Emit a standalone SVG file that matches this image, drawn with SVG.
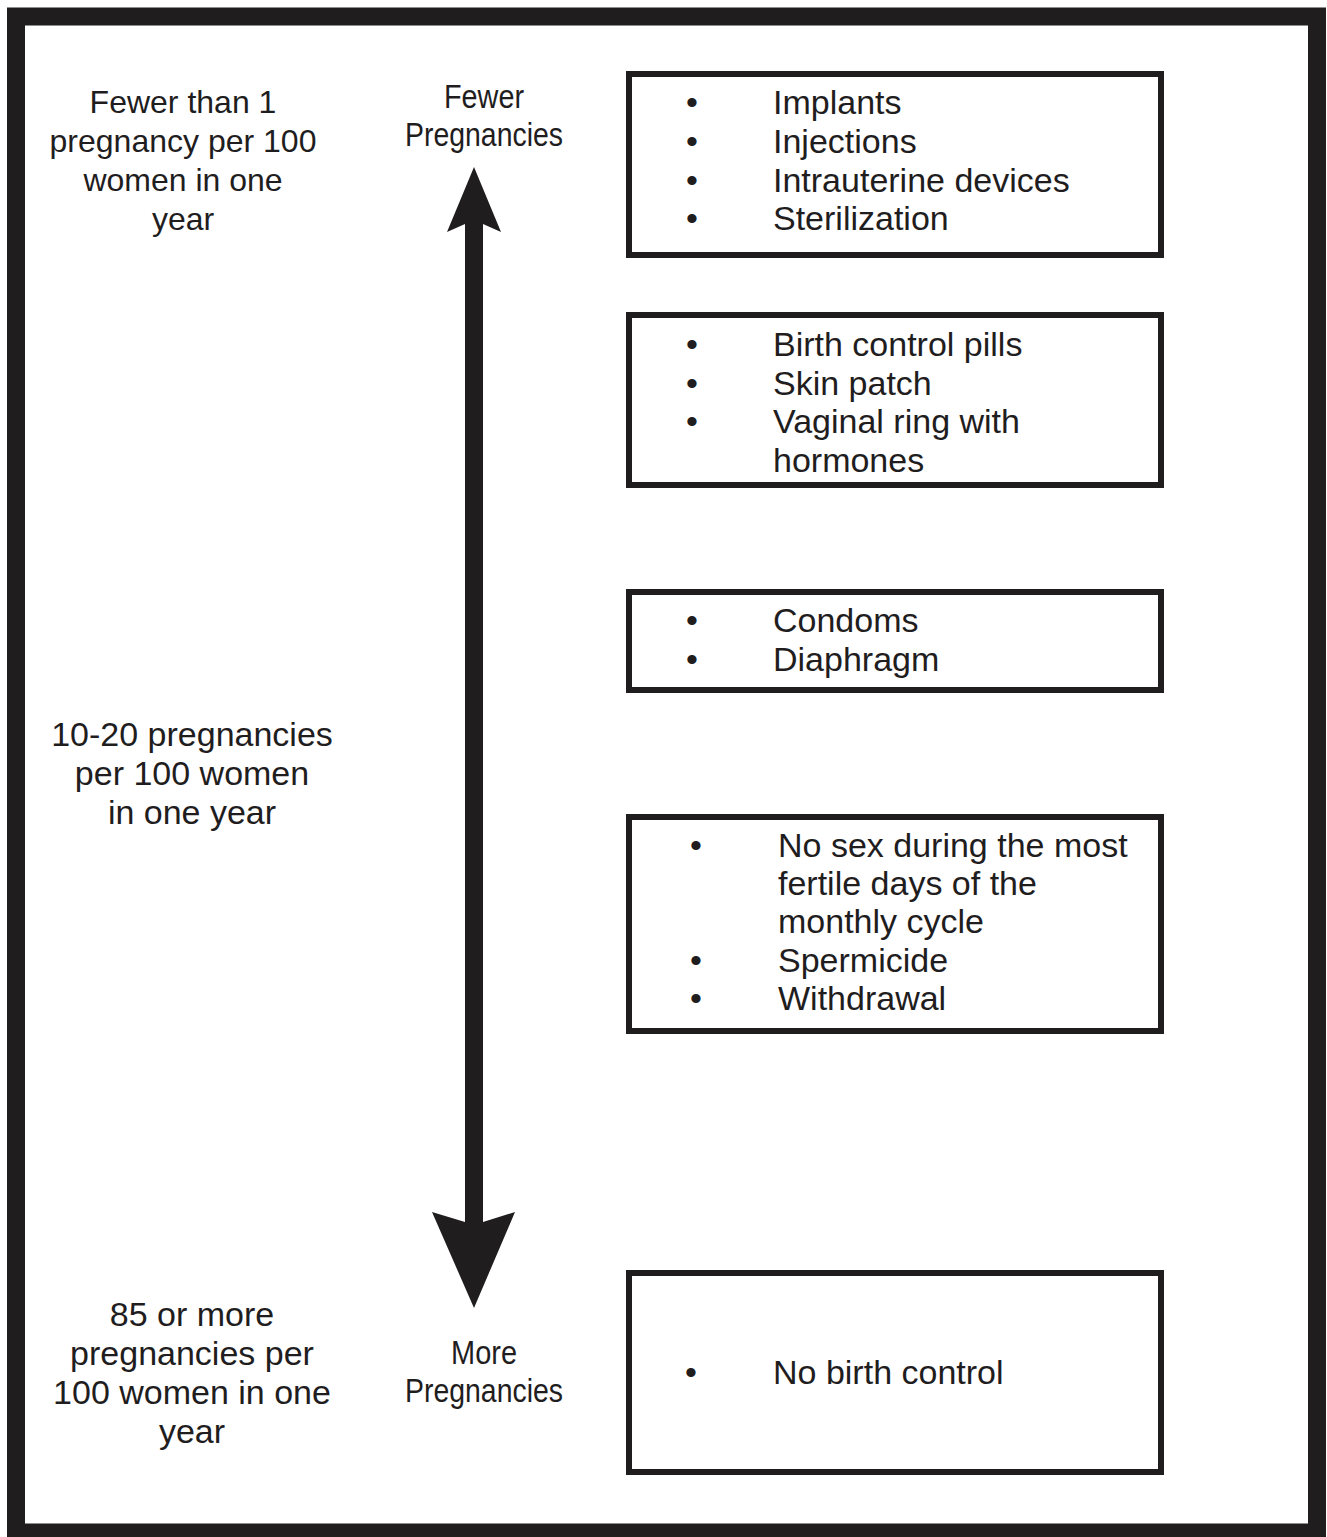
<svg xmlns="http://www.w3.org/2000/svg" width="1327" height="1537" viewBox="0 0 1327 1537">
<style>
.t{font-family:"Liberation Sans",Arial,sans-serif;fill:#1f1d1e}
.l{font-size:34px;text-anchor:middle}
.b{font-size:34px}
.ax{font-size:34px;text-anchor:middle}
.box{fill:none;stroke:#1f1d1e;stroke-width:6}
</style>
<rect x="0" y="0" width="1327" height="1537" fill="#ffffff"/>
<rect x="16" y="16.5" width="1301" height="1516" fill="none" stroke="#1f1d1e" stroke-width="18"/>
<g id="label-top" class="t l">
<text x="183" y="113" font-size="32">Fewer than 1</text>
<text x="183" y="152" font-size="32">pregnancy per 100</text>
<text x="183" y="191" font-size="32">women in one</text>
<text x="183" y="230" font-size="32">year</text>
</g>
<g id="label-mid" class="t l">
<text x="192" y="746">10-20 pregnancies</text>
<text x="192" y="785">per 100 women</text>
<text x="192" y="824">in one year</text>
</g>
<g id="label-bottom" class="t l">
<text x="192" y="1326">85 or more</text>
<text x="192" y="1365">pregnancies per</text>
<text x="192" y="1404">100 women in one</text>
<text x="192" y="1443">year</text>
</g>
<g id="axis-top" class="t ax">
<text x="484" y="108" textLength="80" lengthAdjust="spacingAndGlyphs">Fewer</text>
<text x="484" y="146" textLength="158" lengthAdjust="spacingAndGlyphs">Pregnancies</text>
</g>
<g id="axis-bottom" class="t ax">
<text x="484" y="1364" textLength="66" lengthAdjust="spacingAndGlyphs">More</text>
<text x="484" y="1402" textLength="158" lengthAdjust="spacingAndGlyphs">Pregnancies</text>
</g>
<g id="connectors">
<polygon points="474,167 501,232 483,224 483,1222 515,1212 474,1308 432,1212 465,1222 465,224 447,232" fill="#1f1d1e"/>
</g>
<g id="box1">
<rect class="box" x="629" y="74" width="532" height="181"/>
<g class="t b">
<text x="686" y="114">•</text><text x="773" y="114">Implants</text>
<text x="686" y="153">•</text><text x="773" y="153">Injections</text>
<text x="686" y="192">•</text><text x="773" y="192">Intrauterine devices</text>
<text x="686" y="230">•</text><text x="773" y="230">Sterilization</text>
</g>
</g>
<g id="box2">
<rect class="box" x="629" y="315" width="532" height="170"/>
<g class="t b">
<text x="686" y="356">•</text><text x="773" y="356">Birth control pills</text>
<text x="686" y="395">•</text><text x="773" y="395">Skin patch</text>
<text x="686" y="433">•</text><text x="773" y="433">Vaginal ring with</text>
<text x="773" y="472">hormones</text>
</g>
</g>
<g id="box3">
<rect class="box" x="629" y="592" width="532" height="98"/>
<g class="t b">
<text x="686" y="632">•</text><text x="773" y="632">Condoms</text>
<text x="686" y="671">•</text><text x="773" y="671">Diaphragm</text>
</g>
</g>
<g id="box4">
<rect class="box" x="629" y="817" width="532" height="214"/>
<g class="t b">
<text x="690" y="857">•</text><text x="778" y="857">No sex during the most</text>
<text x="778" y="895">fertile days of the</text>
<text x="778" y="933">monthly cycle</text>
<text x="690" y="972">•</text><text x="778" y="972">Spermicide</text>
<text x="690" y="1010">•</text><text x="778" y="1010">Withdrawal</text>
</g>
</g>
<g id="box5">
<rect class="box" x="629" y="1273" width="532" height="199"/>
<g class="t b">
<text x="685" y="1384">•</text><text x="773" y="1384">No birth control</text>
</g>
</g>
</svg>
